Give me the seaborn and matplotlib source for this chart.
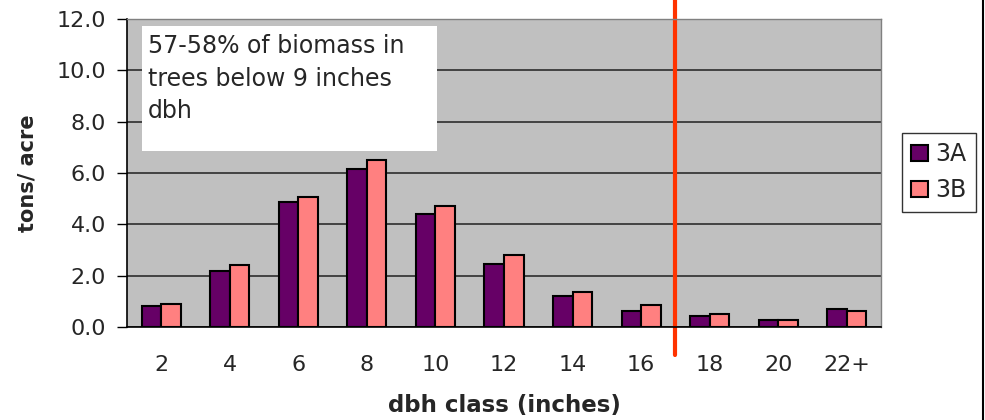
import matplotlib
matplotlib.use("Agg")
import matplotlib.pyplot as plt
import matplotlib.patches as mpatches
import seaborn as sns
import pandas as pd

# dbh classes and biomass per class (tons/acre)
dbh_classes = ["2", "4", "6", "8", "10", "12", "14", "16", "18", "20", "22+"]
biomass_3a = [0.83, 2.2, 4.87, 6.17, 4.39, 2.47, 1.19, 0.64, 0.43, 0.28, 0.70]
biomass_3b = [0.90, 2.4, 5.06, 6.50, 4.73, 2.80, 1.38, 0.85, 0.50, 0.28, 0.64]
series_names = ["3A", "3B"]
series_colors = ["#660066", "#FF8080"]
y_ticks = [0, 2, 4, 6, 8, 10, 12]
note_text = "57-58% of biomass in\ntrees below 9 inches\ndbh"

df = pd.DataFrame({
    "dbh": dbh_classes * 2,
    "tons": biomass_3a + biomass_3b,
    "plot": [series_names[0]] * len(dbh_classes) + [series_names[1]] * len(dbh_classes),
})

sns.set_style("white")
plt.rcParams["font.family"] = ["DejaVu Sans"]

fig = plt.figure(figsize=(9.85, 4.2), dpi=100)
W, H = 985, 420
ax = fig.add_axes([127 / W, 1 - 327 / H, 754 / W, 308 / H])
ax.set_facecolor("#C0C0C0")

sns.barplot(data=df, x="dbh", y="tons", hue="plot", order=dbh_classes,
            hue_order=series_names, palette=series_colors, saturation=1, width=0.57,
            edgecolor="black", linewidth=1.5, ax=ax, legend=False, gap=0)

ax.set_xlim(-0.5, len(dbh_classes) - 0.5)
ax.set_ylim(0, 12)
ax.set_yticks(y_ticks)
ax.set_yticklabels([f"{v:.1f}" for v in y_ticks], fontsize=16)
ax.yaxis.grid(True, color="#202020", linewidth=1.1)
ax.set_axisbelow(True)

# category labels centred, tick marks between classes
ax.set_xticks(range(len(dbh_classes)))
ax.set_xticklabels(dbh_classes, fontsize=16)
ax.set_xticks([i - 0.5 for i in range(len(dbh_classes) + 1)], minor=True)
ax.tick_params(axis="x", which="major", length=0, pad=20)
ax.tick_params(axis="x", which="minor", length=6, width=1, color="black", direction="out")
ax.tick_params(axis="y", length=7, width=1, color="black", direction="out", pad=8, left=True)

for side in ("top", "right"):
    ax.spines[side].set_color("#808080")
    ax.spines[side].set_linewidth(1)
for side in ("left", "bottom"):
    ax.spines[side].set_color("black")
    ax.spines[side].set_linewidth(1.2)

ax.set_xlabel("dbh class (inches)", fontsize=16.5, fontweight="bold", labelpad=14)
ax.set_ylabel("tons/ acre", fontsize=15, fontweight="bold", labelpad=14)

# divider between classes below and above 17 inches
ax.axvline(7.5, ymin=-28 / 308, ymax=327 / 308, color="#FF3300", linewidth=3, clip_on=False)

# annotation box
ax.add_patch(mpatches.Rectangle((15 / 754, 176 / 308), 295 / 754, 125 / 308,
                                transform=ax.transAxes, facecolor="white",
                                edgecolor="none", zorder=3))
ax.text(21 / 754, 293 / 308, note_text, transform=ax.transAxes, fontsize=17,
        va="top", ha="left", linespacing=1.45, zorder=4)

handles = [mpatches.Patch(facecolor=c, edgecolor="black", linewidth=1.5) for c in series_colors]
leg = fig.legend(handles, series_names, loc="upper left",
                 bbox_to_anchor=(902 / W, 1 - 133 / H), fontsize=17,
                 frameon=True, fancybox=False, handlelength=0.7, handleheight=0.7,
                 handletextpad=0.3, borderpad=0.4, labelspacing=0.5, borderaxespad=0)
leg.get_frame().set_edgecolor("black")
leg.get_frame().set_linewidth(1)

# figure border on the right edge
fig.add_artist(plt.Line2D([983 / W, 983 / W], [0, 1], transform=fig.transFigure,
                          color="black", linewidth=1.5))

fig.savefig("out.png", dpi=100)
